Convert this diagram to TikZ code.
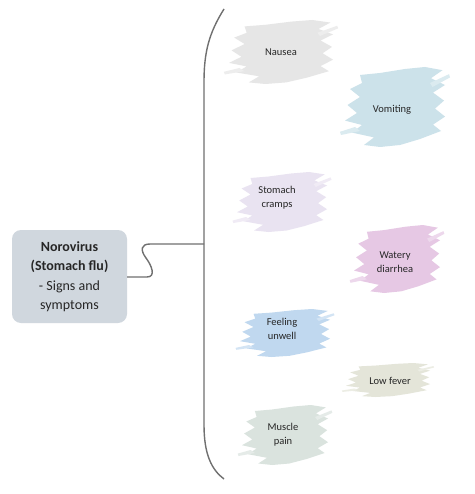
\documentclass[tikz,border=0pt]{standalone}
\usepackage{fontspec}
\setmainfont{Carlito}
\definecolor{linegrey}{HTML}{707070}
\definecolor{boxfill}{HTML}{D0D7DE}
\definecolor{cNausea}{HTML}{E6E6E6}
\definecolor{cVomit}{HTML}{CCE2EA}
\definecolor{cCramp}{HTML}{E9E3F1}
\definecolor{cDiarr}{HTML}{E6C8E4}
\definecolor{cUnwell}{HTML}{C0D8EF}
\definecolor{cFever}{HTML}{E4E5D9}
\definecolor{cMuscle}{HTML}{DAE3DE}
\definecolor{txt}{HTML}{262626}
\newcommand\brushblob[5]{%
  \begin{scope}[shift={(#1,#2)},xscale=#3,yscale=#4]
    \fill[#5] (-0.7,-0.8) -- (-0.3,-0.85) -- (0.2,-0.95) -- (0.6,-1) -- (0.95,-0.92) -- (0.72,-0.72)
      -- (1,-0.55) -- (0.76,-0.36) -- (0.98,-0.16) -- (0.8,0.04) -- (1,0.24) -- (0.76,0.44)
      -- (0.92,0.6) -- (0.5,0.8) -- (0.1,0.95) -- (-0.3,1) -- (-0.62,0.95) -- (-0.42,0.76)
      -- (-0.86,0.64) -- (-0.66,0.45) -- (-1,0.34) -- (-0.76,0.15) -- (-0.95,-0.05)
      -- (-0.7,-0.25) -- (-0.9,-0.45) -- (-0.66,-0.6) -- cycle;
    \fill[#5!70!white] (0.7,-0.6) -- (1.08,-0.82) -- (1.1,-0.74) -- (0.75,-0.5) -- cycle;
    \fill[#5!70!white] (-0.8,0.5) -- (-1.1,0.62) -- (-1.08,0.7) -- (-0.7,0.6) -- cycle;
  \end{scope}}
\tikzset{
  conn/.style={draw=linegrey,line width=1.4pt},
  maintext/.style={align=center,text=txt,font=\fontsize{14}{19.5}\selectfont},
  symp/.style={align=center,text=txt,font=\fontsize{10.5}{14}\selectfont},
}
\begin{document}
\begin{tikzpicture}[x=1pt,y=-1pt]
\useasboundingbox[fill=white] (0,0) rectangle (474,494);
% bracket
\coordinate (btop) at (224,9);
\coordinate (bbot) at (224,479);
\coordinate (bjoin) at (204,244);
\draw[conn] (btop) .. controls (209,33) and (204,52) .. (204,82) -- (204,425)
  .. controls (204,455) and (212,470) .. (bbot);
% main box
\node[fill=boxfill,rounded corners=9pt,minimum width=115pt,minimum height=93pt,maintext]
  (main) at (69.5,276.5) {\textbf{Norovirus}\\\textbf{(Stomach flu)}\\- Signs and\\symptoms};
\draw[conn] (main.east |- 0,277) -- (147,277) .. controls (156,277) and (152,266) .. (146,258)
  .. controls (140,250) and (141,244) .. (150,244) -- (bjoin);
% blobs
\brushblob{281}{52}{52}{32}{cNausea}
\node[symp] (nausea) at (281,52) {Nausea};
\brushblob{395}{107}{50}{40}{cVomit}
\node[symp] (vomit) at (392,110) {Vomiting};
\brushblob{282}{202}{45}{30}{cCramp}
\node[symp] (cramp) at (277,198) {Stomach\\cramps};
\brushblob{397}{259}{43}{34}{cDiarr}
\node[symp] (diarr) at (395,262) {Watery\\diarrhea};
\brushblob{285}{333}{45}{24}{cUnwell}
\node[symp] (unwell) at (282,329) {Feeling\\unwell};
\brushblob{388}{380}{42}{17}{cFever}
\node[symp] (fever) at (390,381) {Low fever};
\brushblob{285}{435}{43}{30}{cMuscle}
\node[symp] (muscle) at (283,435) {Muscle\\pain};
\end{tikzpicture}
\end{document}
